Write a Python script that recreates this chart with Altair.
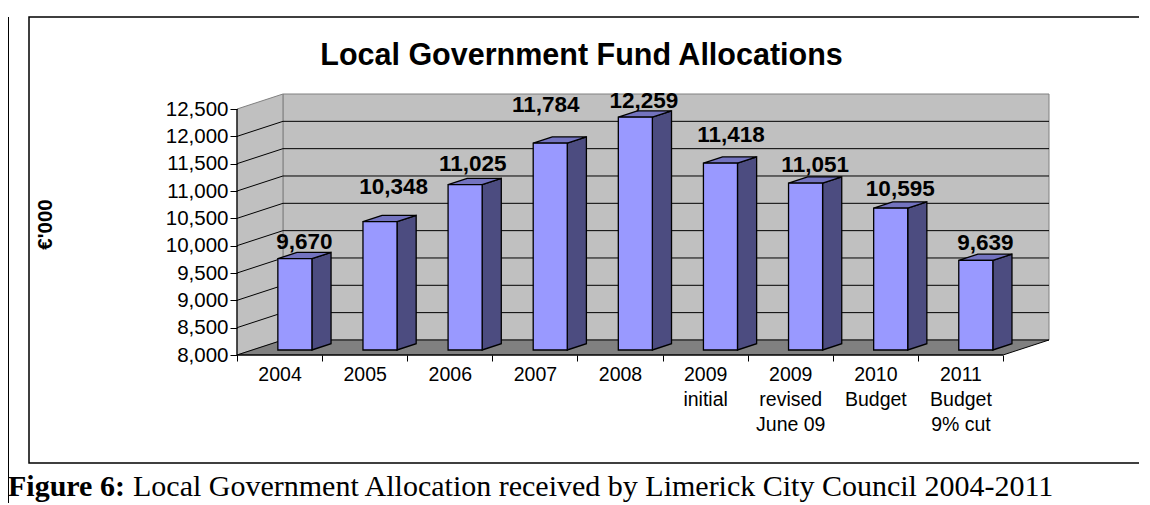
import json
import altair as alt
import pandas as pd

# ---------------- data ----------------
categories = ["2004", "2005", "2006", "2007", "2008", "2009 initial",
              "2009 revised June 09", "2010 Budget", "2011 Budget 9% cut"]
category_lines = [["2004"], ["2005"], ["2006"], ["2007"], ["2008"],
                  ["2009", "initial"], ["2009", "revised", "June 09"],
                  ["2010", "Budget"], ["2011", "Budget", "9% cut"]]
values = [9670, 10348, 11025, 11784, 12259, 11418, 11051, 10595, 9639]
y_ticks = [8000, 8500, 9000, 9500, 10000, 10500, 11000, 11500, 12000, 12500]
grid_levels = [8500, 9000, 9500, 10000, 10500, 11000, 11500, 12000]

title_text = "Local Government Fund Allocations"
y_title = "€'000"
caption_bold = "Figure 6:"
caption_rest = "Local Government Allocation received by Limerick City Council 2004-2011"

# ---------------- style: per-label pixel nudges (as placed in the original) ----
label_dx = [0, 4, -2, -14, -1, 1, 0, 0, 0]
label_dy = [0, -18, -4, -22, 0, -12, -2, -3, -1]

# ---------------- 3D geometry (in data units) ----------------
W, H = 812, 261
Y_MIN, Y_MAX = 8000, 12500
N = len(categories)
DX = 0.54      # depth offset along x, in category units
DY = 275.0     # depth offset along y, in value units
F0, F1 = 1 / 3, 0.75   # bar front / back depth fraction
HALF = 0.2             # half bar width in category units
PX_X = W / (N + DX)                   # pixels per category unit
PX_Y = H / (Y_MAX + DY - Y_MIN)       # pixels per value unit

xs = alt.Scale(domain=[0, N + DX], nice=False, zero=False)
ys = alt.Scale(domain=[Y_MIN, Y_MAX + DY], nice=False, zero=False)

front_rows, side_rows, top_rows, label_rows = [], [], [], []
for i, (c, v) in enumerate(zip(categories, values)):
    cx = i + 0.5
    front_rows.append(dict(id=c, x0=cx - HALF + F0 * DX, x1=cx + HALF + F0 * DX,
                           y0=Y_MIN + F0 * DY, y1=v + F0 * DY))
    for f in (F0, F1):
        side_rows.append(dict(id=c, x=cx + HALF + f * DX, top=v + f * DY,
                              bot=Y_MIN + f * DY))
        top_rows.append(dict(id=c, y=v + f * DY, xl=cx - HALF + f * DX,
                             xr=cx + HALF + f * DX))
    label_rows.append(dict(id=c,
                           x=cx + (F0 + F1) / 2 * DX + label_dx[i] / PX_X,
                           y=v + F1 * DY + (3 - label_dy[i]) / PX_Y,
                           txt=f"{v:,}"))

front_df = pd.DataFrame(front_rows)
side_df = pd.DataFrame(side_rows)
top_df = pd.DataFrame(top_rows)
label_df = pd.DataFrame(label_rows)

back_df = pd.DataFrame([dict(x0=DX, x1=N + DX, y0=Y_MIN + DY, y1=Y_MAX + DY)])
sidewall_df = pd.DataFrame([dict(x=0.0, top=Y_MAX, bot=Y_MIN),
                            dict(x=DX, top=Y_MAX + DY, bot=Y_MIN + DY)])
floor_df = pd.DataFrame([dict(y=Y_MIN, xl=0.0, xr=N),
                         dict(y=Y_MIN + DY, xl=DX, xr=N + DX)])
grid_rows = []
for g in grid_levels:
    grid_rows.append(dict(x=DX, x2=N + DX, y=g + DY, y2=g + DY))
    grid_rows.append(dict(x=0.0, x2=DX, y=g, y2=g + DY))
grid_df = pd.DataFrame(grid_rows)
yaxis_df = pd.DataFrame([dict(x=0.0, y=Y_MIN, y2=Y_MAX)])
xaxis_df = pd.DataFrame([dict(x=0.0, x2=N, y=Y_MIN)])
one = pd.DataFrame([dict(a=1)])

FONT = "Liberation Sans"
SERIF = "Liberation Serif"

x_tick_values = [k / 2 for k in range(0, 2 * N + 1)]
label_expr = ("datum.value % 1 == 0 ? '' : " + json.dumps(category_lines) +
              "[floor(datum.value)]")

x_axis = alt.Axis(values=x_tick_values, labelExpr=label_expr, title=None,
                  domain=False, grid=False, tickColor="black", tickSize=6,
                  tickWidth=1, zindex=1,
                  tickOpacity={"condition": {"test": "datum.value % 1 != 0", "value": 0},
                               "value": 1},
                  labelFont=FONT, labelFontSize=19.5, labelColor="black",
                  labelLineHeight=25, labelPadding=4, labelOverlap=False,
                  labelFlush=False, labelBound=False, labelAngle=0)
y_axis = alt.Axis(values=y_ticks, format=",d", title=y_title, domain=False,
                  grid=False, tickColor="black", tickSize=7, tickWidth=1,
                  zindex=1,
                  labelFont=FONT, labelFontSize=20.5, labelColor="black",
                  labelPadding=2, labelOverlap=False, labelFlush=False,
                  titleFont=FONT, titleFontSize=20.5, titleFontWeight="bold",
                  titleColor="black", titleAngle=270, titleX=-192, titleY=130,
                  titleAlign="center", titleBaseline="middle")


def X(field):
    return alt.X(field, type="quantitative", scale=xs, axis=x_axis)


def Y(field):
    return alt.Y(field, type="quantitative", scale=ys, axis=y_axis)


# ---------------- layers ----------------
frame = alt.Chart(one).mark_rect(filled=False, stroke="black", strokeWidth=1.5).encode(
    x=alt.value(-208), x2=alt.value(904), y=alt.value(-77), y2=alt.value(369))
outer = alt.Chart(one).mark_rule(color="black", strokeWidth=1).encode(
    x=alt.value(-228.5), y=alt.value(-77), y2=alt.value(411))

back = alt.Chart(back_df).mark_rect(fill="#C0C0C0", stroke="#808080", strokeWidth=1).encode(
    x=X("x0"), x2="x1", y=Y("y0"), y2="y1")

sidewall = alt.Chart(sidewall_df).mark_area(fill="#C0C0C0", stroke="#808080",
                                            strokeWidth=1).encode(
    x=X("x"), y=Y("top"), y2="bot")

floor = alt.Chart(floor_df).mark_area(orient="horizontal", fill="#808080",
                                      stroke="black", strokeWidth=1).encode(
    y=Y("y"), x=X("xl"), x2="xr")

grid = alt.Chart(grid_df).mark_rule(color="black", strokeWidth=1).encode(
    x=X("x"), x2="x2", y=Y("y"), y2="y2")

yline = alt.Chart(yaxis_df).mark_rule(color="black", strokeWidth=1.2).encode(
    x=X("x"), y=Y("y"), y2="y2")

xline = alt.Chart(xaxis_df).mark_rule(color="black", strokeWidth=1.2).encode(
    x=X("x"), x2="x2", y=Y("y"))

side = alt.Chart(side_df).mark_area(fill="#4C4C80", stroke="black",
                                    strokeWidth=1.3).encode(
    x=X("x"), y=Y("top"), y2="bot", detail="id:N")

topf = alt.Chart(top_df).mark_area(orient="horizontal", fill="#7373BF",
                                   stroke="black", strokeWidth=1.3).encode(
    y=Y("y"), x=X("xl"), x2="xr", detail="id:N")

frontf = alt.Chart(front_df).mark_rect(fill="#9999FF", stroke="black",
                                       strokeWidth=1.3).encode(
    x=X("x0"), x2="x1", y=Y("y0"), y2="y1")

labels = alt.Chart(label_df).mark_text(font=FONT, fontSize=22.5, fontWeight="bold",
                                       color="black", baseline="alphabetic").encode(
    x=X("x"), y=Y("y"), text="txt:N")

title = alt.Chart(one).mark_text(font=FONT, fontSize=30.5, fontWeight="bold",
                                 color="black", align="center",
                                 baseline="alphabetic").encode(
    x=alt.value(344.5), y=alt.value(-29), text=alt.value(title_text))

cap1 = alt.Chart(one).mark_text(font=SERIF, fontSize=30, fontWeight="bold",
                                color="black", align="left",
                                baseline="alphabetic").encode(
    x=alt.value(-229), y=alt.value(402), text=alt.value(caption_bold))
cap2 = alt.Chart(one).mark_text(font=SERIF, fontSize=30, color="black",
                                align="left", baseline="alphabetic").encode(
    x=alt.value(-229 + 125), y=alt.value(402), text=alt.value(caption_rest))

chart = alt.layer(
    frame, outer, back, sidewall, floor, grid, yline, xline, side, topf, frontf,
    labels, title, cap1, cap2
).properties(
    width=W, height=H,
    padding={"left": 229, "top": 86, "right": 90, "bottom": 148},
    autosize=alt.AutoSizeParams(type="none"),
    background="white",
).configure_view(stroke=None)

chart.save("out.html", embed_options={"renderer": "svg", "actions": False})
